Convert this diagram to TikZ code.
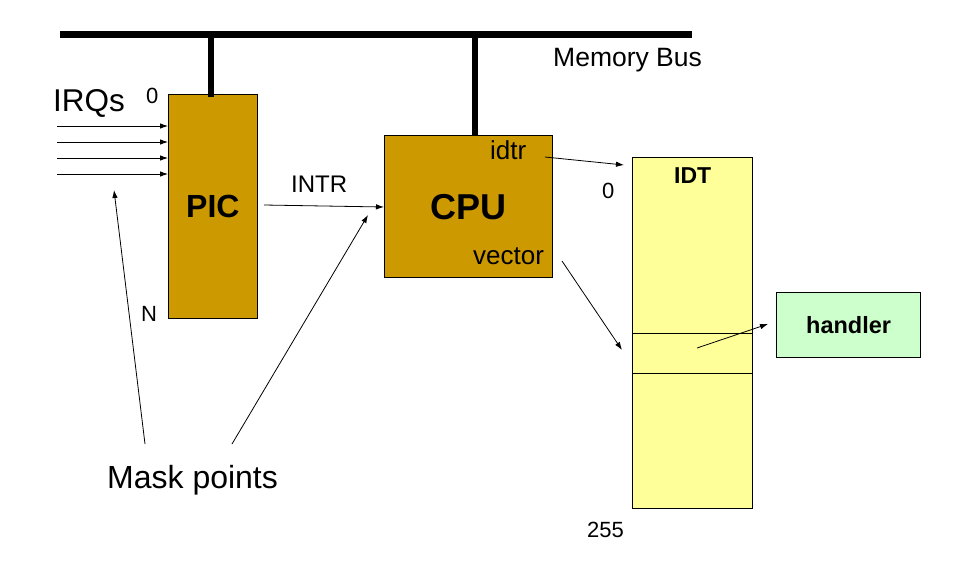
\documentclass[tikz,border=0pt]{standalone}
\usepackage{fontspec}
\setmainfont{Liberation Sans}
\usetikzlibrary{arrows.meta}
\definecolor{gold}{HTML}{CC9900}
\definecolor{idtyellow}{HTML}{FFFF99}
\definecolor{hgreen}{HTML}{CCFFCC}
\tikzset{
  box/.style={draw=black, line width=0.8pt, inner sep=0pt, anchor=center},
  lbl/.style={inner sep=0pt, anchor=base west},
  arr/.style={line width=0.8pt, -{Latex[length=8pt,width=5.5pt]}},
  bus/.style={line width=7pt},
  stem/.style={line width=6pt},
}
\begin{document}
\begin{tikzpicture}[x=1pt,y=-1pt]
\useasboundingbox (0,0) rectangle (966,574);
% boxes
\node[box, fill=gold, minimum width=89pt, minimum height=224pt] (pic) at (212.5,206) {};
\node[box, fill=gold, minimum width=168pt, minimum height=142pt] (cpu) at (468,206) {};
\node[box, fill=idtyellow, minimum width=120pt, minimum height=351pt] (idt) at (692,332.5) {};
\node[box, fill=hgreen, minimum width=144pt, minimum height=65pt] (handler) at (848,324.5) {};
% IDT entry lines
\draw[line width=0.8pt] (632,333) -- (752,333);
\draw[line width=0.8pt] (632,373) -- (752,373);
% memory bus
\coordinate (busL) at (60,34);
\coordinate (busR) at (692,34);
\draw[bus] (busL) -- (busR);
\coordinate (picTop) at (211,34);
\coordinate (cpuTop) at (475,34);
\draw[stem] (picTop) -- (211,97);
\draw[stem] (cpuTop) -- (475,136);
% labels
\node[lbl, font=\fontsize{31.5}{31.5}\selectfont] (irqs) at (53,111) {IRQs};
\node[lbl, font=\fontsize{26.5}{26.5}\selectfont] (membus) at (553,66) {Memory Bus};
\node[lbl, font=\fontsize{22}{22}\selectfont] (zeroPic) at (146,103) {0};
\node[lbl, font=\fontsize{22}{22}\selectfont] (nPic) at (141,321) {N};
\node[lbl, font=\fontsize{32}{32}\selectfont\bfseries] (picl) at (186,217) {PIC};
\node[lbl, font=\fontsize{24}{24}\selectfont] (intr) at (291,192) {INTR};
\node[lbl, font=\fontsize{36}{36}\selectfont\bfseries] (cpul) at (430,219) {CPU};
\node[lbl, font=\fontsize{26}{26}\selectfont] (idtr) at (490,159) {idtr};
\node[lbl, font=\fontsize{26}{26}\selectfont] (vector) at (473,264) {vector};
\node[lbl, font=\fontsize{23}{23}\selectfont\bfseries] (idtl) at (674,183) {IDT};
\node[lbl, font=\fontsize{22}{22}\selectfont] (zeroIdt) at (602,198) {0};
\node[lbl, font=\fontsize{23.5}{23.5}\selectfont\bfseries] (handlerl) at (806,333) {handler};
\node[lbl, font=\fontsize{32}{32}\selectfont] (mask) at (107,488) {Mask points};
\node[lbl, font=\fontsize{22}{22}\selectfont] (n255) at (587,537) {255};
% IRQ arrows
\foreach \y in {126,142,158,174}{
  \coordinate (irqS\y) at (57,\y);
  \coordinate (irqE\y) at (168,\y);
  \draw[arr] (irqS\y) -- (irqE\y);
}
% INTR
\coordinate (intrS) at (264,205);
\coordinate (intrE) at (384,207);
\draw[arr] (intrS) -- (intrE);
% idtr -> IDT
\coordinate (idtrS) at (545,157);
\coordinate (idtrE) at (624,165);
\draw[arr] (idtrS) -- (idtrE);
% vector -> entry
\coordinate (vecS) at (562,261);
\coordinate (vecE) at (622,350);
\draw[arr] (vecS) -- (vecE);
% entry -> handler
\coordinate (entS) at (697,348);
\coordinate (entE) at (768,324);
\draw[arr] (entS) -- (entE);
% mask points
\coordinate (m1S) at (145,444);
\coordinate (m1E) at (114,190);
\draw[arr] (m1S) -- (m1E);
\coordinate (m2S) at (232,444);
\coordinate (m2E) at (368,215);
\draw[arr] (m2S) -- (m2E);
\end{tikzpicture}
\end{document}
